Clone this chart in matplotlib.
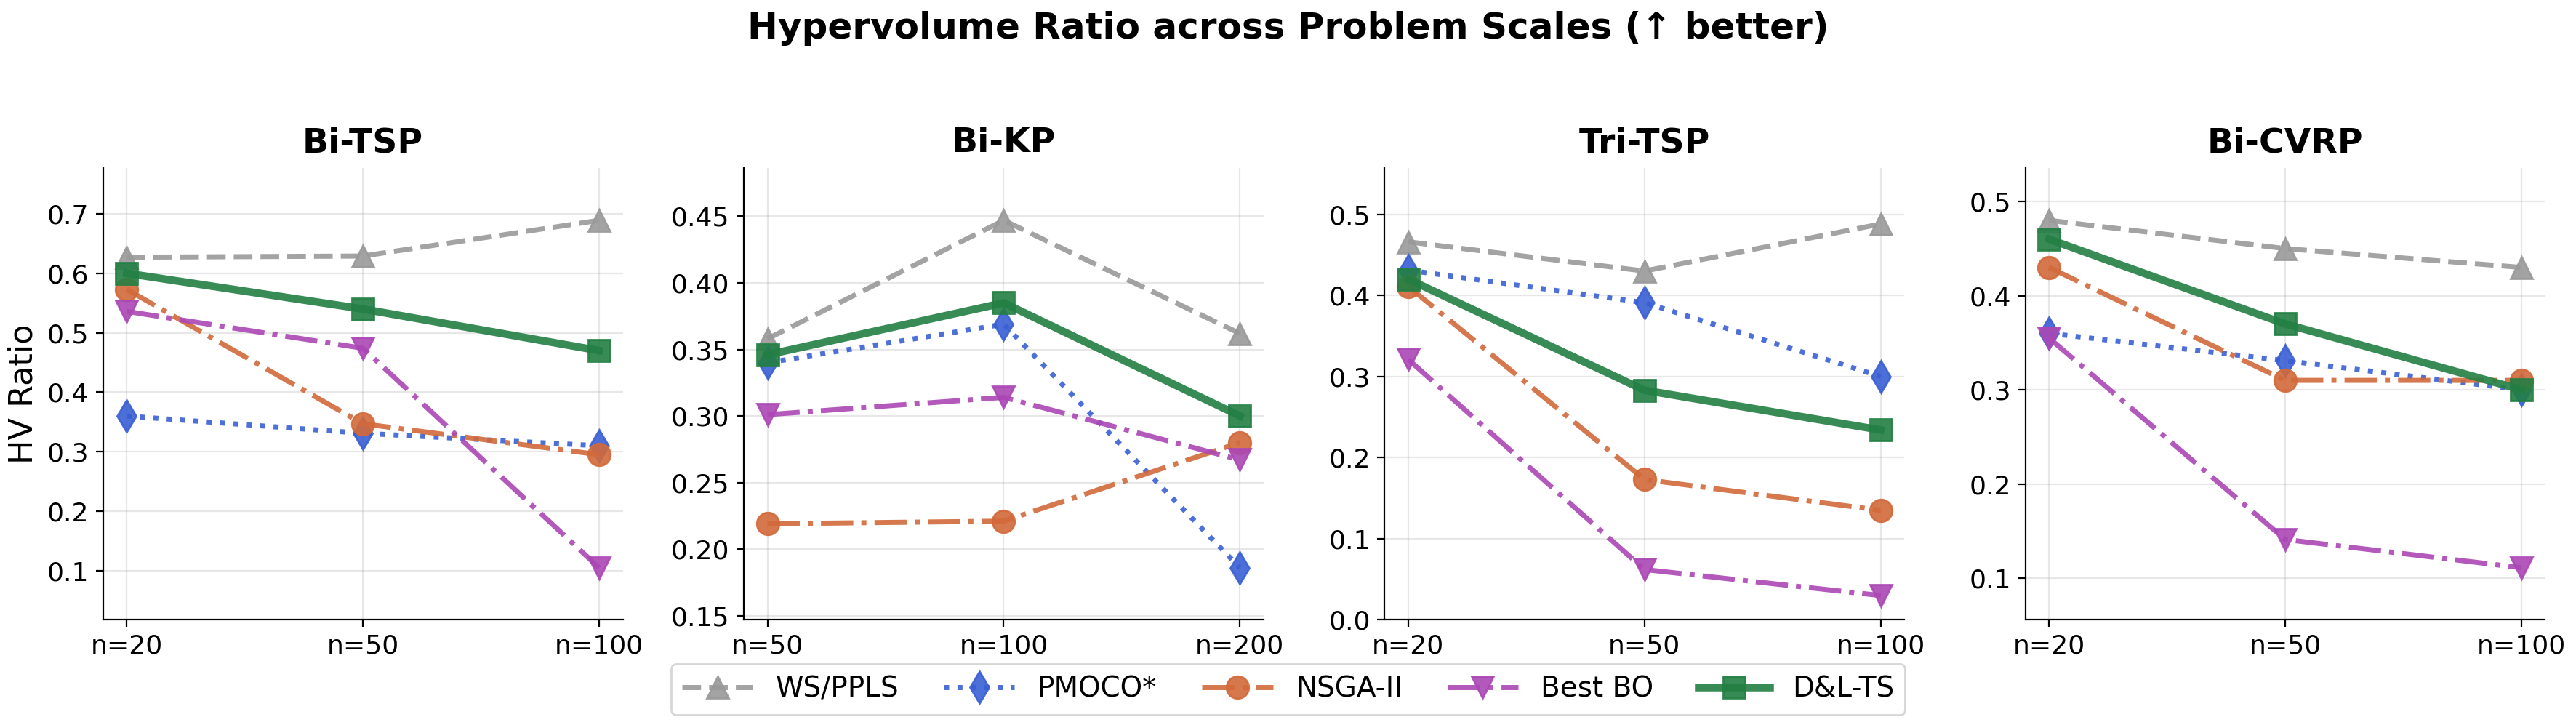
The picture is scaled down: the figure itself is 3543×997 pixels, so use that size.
import matplotlib
matplotlib.use("Agg")
import matplotlib.pyplot as plt

# problems and scales
problems = ["Bi-TSP", "Bi-KP", "Tri-TSP", "Bi-CVRP"]
scales = [
    ["n=20", "n=50", "n=100"],
    ["n=50", "n=100", "n=200"],
    ["n=20", "n=50", "n=100"],
    ["n=20", "n=50", "n=100"],
]

methods = ["WS/PPLS", "PMOCO*", "NSGA-II", "Best BO", "D&L-TS"]

# HV ratio per method, one list per problem
ws_ppls = [
    [0.627, 0.629, 0.689],
    [0.358, 0.447, 0.362],
    [0.466, 0.430, 0.488],
    [0.480, 0.450, 0.430],
]
pmoco = [
    [0.360, 0.331, 0.310],
    [0.340, 0.369, 0.186],
    [0.431, 0.391, 0.300],
    [0.360, 0.331, 0.300],
]
nsga2 = [
    [0.573, 0.347, 0.295],
    [0.219, 0.221, 0.280],
    [0.411, 0.173, 0.135],
    [0.430, 0.310, 0.310],
]
best_bo = [
    [0.536, 0.474, 0.105],
    [0.301, 0.314, 0.267],
    [0.321, 0.062, 0.030],
    [0.355, 0.141, 0.111],
]
dl_ts = [
    [0.600, 0.540, 0.470],
    [0.346, 0.385, 0.300],
    [0.420, 0.283, 0.234],
    [0.460, 0.370, 0.300],
]

series = [ws_ppls, pmoco, nsga2, best_bo, dl_ts]

styles = [
    dict(color="#999999", ls="--", marker="^", lw=2.5),
    dict(color="#3a5fd4", ls=":", marker="d", lw=2.5),
    dict(color="#d2693a", ls="-.", marker="o", lw=2.5),
    dict(color="#ab47b5", ls="-.", marker="v", lw=2.5),
    dict(color="#237f44", ls="-", marker="s", lw=3.8),
]


def main():
    fig, axes = plt.subplots(1, 4, figsize=(17.715, 4.985), dpi=200)
    fig.subplots_adjust(left=0.040, right=0.988, top=0.768, bottom=0.145, wspace=0.233)

    handles = []
    for p, ax in enumerate(axes):
        x = list(range(len(scales[p])))
        all_vals = []
        for m, name in enumerate(methods):
            vals = series[m][p]
            all_vals += vals
            st = styles[m]
            h, = ax.plot(x, vals, color=st["color"], ls=st["ls"], lw=st["lw"],
                         marker=st["marker"], markersize=11, alpha=0.9,
                         label=name, zorder=3 + (m == 4))
            if p == 0:
                handles.append(h)

        # y range padded by 15% of the data span
        lo, hi = min(all_vals), max(all_vals)
        span = hi - lo
        ax.set_ylim(max(0, lo - 0.15 * span), hi + 0.15 * span)

        ax.set_xticks(x)
        ax.set_xticklabels(scales[p], fontsize=13)
        ax.tick_params(axis="y", labelsize=13)
        ax.set_title(problems[p], fontsize=17, fontweight="bold", pad=8)
        ax.grid(True, alpha=0.3)
        ax.spines["top"].set_visible(False)
        ax.spines["right"].set_visible(False)

    axes[0].set_ylabel("HV Ratio", fontsize=16)

    fig.suptitle("Hypervolume Ratio across Problem Scales (\u2191 better)",
                 fontsize=18, fontweight="bold", y=0.985)

    fig.legend(handles, methods, loc="lower center", ncol=5, fontsize=14,
               bbox_to_anchor=(0.5, -0.005), frameon=True, handlelength=2.5,
               columnspacing=1.6)

    fig.savefig("out.png", dpi=200)


if __name__ == "__main__":
    main()
